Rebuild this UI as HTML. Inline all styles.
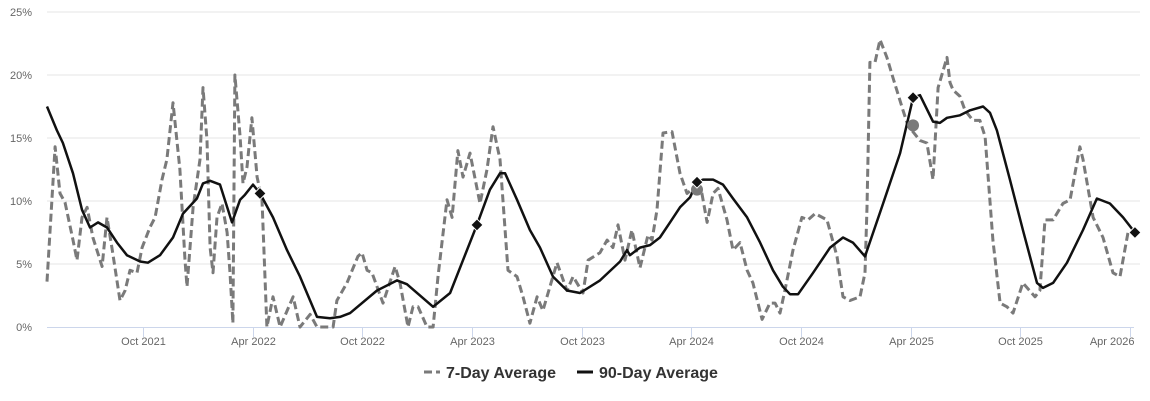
<!DOCTYPE html>
<html><head><meta charset="utf-8"><style>
html,body{margin:0;padding:0;background:#fff;}
svg{display:block;font-family:"Liberation Sans",Arial,sans-serif;}
</style></head><body>
<svg id="chart" width="1150" height="401" viewBox="0 0 1150 401" xmlns="http://www.w3.org/2000/svg">
<g id="grid"></g>
<g id="yaxis"></g>
<g id="xaxis"></g>
<g id="series"></g>
<g id="legend">
 <g>
  <line x1="424" y1="372" x2="440" y2="372" stroke="#7a7a7a" stroke-width="3" stroke-dasharray="8,4"/>
  <text x="446" y="378" font-size="16" font-weight="bold" fill="#333">7-Day Average</text>
 </g>
 <g>
  <line x1="577" y1="372" x2="593" y2="372" stroke="#111" stroke-width="3"/>
  <text x="599" y="378" font-size="16" font-weight="bold" fill="#333">90-Day Average</text>
 </g>
</g>
</svg>
<script>
// months since Jan 2021
const avg90Months=[3.75,4.29,4.62,5.17,5.66,6.10,6.54,7.03,7.58,8.12,8.84,9.27,9.93,10.64,11.19,11.95,12.28,12.67,13.21,13.87,14.31,14.58,15.02,15.40,16.11,16.88,17.59,18.52,19.23,19.78,20.33,21.80,22.90,23.44,24.87,25.80,26.51,27.27,27.98,28.53,28.81,29.46,30.17,30.72,31.43,32.20,32.91,34.00,35.10,35.48,35.64,36.19,36.74,37.28,37.83,38.38,38.93,39.31,39.64,40.19,40.73,41.28,42.05,42.76,43.47,44.01,44.40,44.84,45.66,46.59,47.30,47.84,48.50,49.49,50.42,51.13,51.51,52.22,52.60,52.99,53.70,54.25,54.96,55.34,55.72,56.43,57.14,57.91,58.24,58.79,59.55,60.43,61.19,61.90,62.62,63.27];
const avg90Values=[17.5,15.6,14.6,12.2,9.3,7.9,8.3,7.9,6.7,5.7,5.2,5.1,5.7,7.1,9.0,10.2,11.4,11.6,11.3,8.3,10.1,10.5,11.3,10.6,8.7,6.1,4.0,0.8,0.7,0.8,1.1,2.9,3.7,3.4,1.6,2.7,5.3,8.1,10.9,12.2,12.2,10.1,7.7,6.3,4.0,2.9,2.7,3.7,5.2,6.1,5.7,6.3,6.5,7.1,8.3,9.5,10.3,11.5,11.7,11.7,11.3,10.2,8.7,6.7,4.5,3.2,2.6,2.6,4.3,6.3,7.1,6.7,5.6,9.8,13.8,18.2,18.4,16.3,16.2,16.6,16.8,17.2,17.5,17.0,15.6,11.7,7.7,3.5,3.1,3.5,5.1,7.7,10.2,9.8,8.7,7.5];
const avg7Months=[3.75,4.19,4.46,4.73,5.17,5.39,5.66,5.94,6.26,6.76,7.03,7.30,7.74,8.02,8.29,8.67,8.95,9.38,9.66,10.04,10.31,10.64,11.02,11.30,11.41,11.74,12.12,12.28,12.50,12.67,12.83,13.05,13.32,13.60,13.76,13.92,14.03,14.31,14.47,14.69,14.96,15.24,15.51,15.78,16.11,16.50,17.21,17.59,18.14,18.52,19.40,19.61,20.16,20.76,20.98,21.26,21.53,22.13,22.79,23.06,23.50,23.77,24.05,24.54,24.87,25.14,25.63,25.91,26.23,26.51,26.89,27.44,27.82,28.15,28.53,28.97,29.46,29.79,30.17,30.56,30.88,31.65,32.20,32.53,33.07,33.35,34.00,34.39,34.71,34.99,35.37,35.75,36.19,36.63,36.85,37.12,37.45,37.94,38.38,38.76,39.20,39.58,39.86,40.19,40.46,40.95,41.28,41.66,42.05,42.37,42.87,43.30,43.58,43.85,44.12,44.56,45.05,45.38,45.77,46.42,46.97,47.30,47.68,48.23,48.50,48.61,48.77,49.05,49.32,49.70,50.03,50.58,50.85,51.51,51.89,52.22,52.50,52.99,53.15,53.32,53.70,53.97,54.41,54.79,55.07,55.50,55.89,56.27,56.60,57.14,57.80,58.07,58.35,58.79,59.33,59.72,60.26,60.43,60.98,61.52,62.07,62.45,62.89,63.27];
const avg7Values=[3.6,14.3,10.6,9.9,6.9,5.3,8.7,9.5,7.1,4.8,8.7,6.3,2.1,2.9,4.5,4.3,6.3,7.9,8.7,11.7,13.3,17.8,12.5,5.3,3.2,9.5,13.3,19.0,14.8,6.3,4.3,8.7,9.8,7.5,4.3,0.3,20.0,15.1,11.4,12.7,16.6,11.9,10.1,0,2.4,0,2.4,0,1.0,0,0,2.1,3.5,5.6,5.9,4.5,4.3,1.9,4.8,3.5,0,1.6,1.6,0,0,4.0,10.1,8.7,14.0,11.9,13.8,9.8,12.5,15.9,13.3,4.5,4.0,2.4,0.3,2.4,1.3,5.1,2.9,4.0,2.7,5.3,5.9,6.9,6.3,8.1,5.3,7.7,4.7,7.3,6.9,9.3,15.4,15.5,12.2,10.6,11.1,10.6,8.3,10.6,11.0,8.5,6.1,6.7,4.5,3.5,0.6,1.9,1.9,1.1,2.9,6.1,8.7,8.5,9.0,8.5,5.6,2.4,2.1,2.4,4.3,9.5,21.0,21.0,22.8,21.4,19.8,17.2,16.0,14.8,14.6,11.7,19.0,21.4,19.4,18.8,18.3,17.2,16.4,16.4,15.1,6.9,1.9,1.6,1.1,3.5,2.4,2.9,8.5,8.5,9.8,10.1,14.3,13.3,8.7,7.1,4.3,4.0,7.5,7.5];
const diamondMonths=[15.40,27.27,39.31,51.13,63.27];
const diamondValues=[10.6,8.1,11.5,18.2,7.5];
const circleMonths=[39.31,51.13];
const circleValues=[10.9,16.0];
const yTicks=[0,5,10,15,20,25];
const xTickMonths=[9,15,21,27,33,39,45,51,57,63];
const xTickLabels=["Oct 2021","Apr 2022","Oct 2022","Apr 2023","Oct 2023","Apr 2024","Oct 2024","Apr 2025","Oct 2025","Apr 2026"];

const NS="http://www.w3.org/2000/svg";
const X0=47,X1=1134,Y0=327,Y1=12;
function xs(m){return 143+(m-9)*18.278;}
function ys(v){return Y0-(v/25)*(Y0-Y1);}
function mk(tag,attrs,parent){const e=document.createElementNS(NS,tag);for(const k in attrs)e.setAttribute(k,attrs[k]);parent.appendChild(e);return e;}

const grid=document.getElementById('grid'),yax=document.getElementById('yaxis'),xax=document.getElementById('xaxis'),ser=document.getElementById('series');
yTicks.forEach(t=>{
  if(t>0){const g=mk('line',{x1:X0,x2:X1+6,y1:ys(t),y2:ys(t),stroke:'#e6e6e6','stroke-width':1},grid);
  
  }
  const tx=mk('text',{x:32,y:ys(t)+4,'text-anchor':'end','font-size':11,fill:'#666'},yax);
  tx.textContent=t+'%';
  
  
});
const axl=mk('line',{x1:X0,x2:X1,y1:Y0+0.5,y2:Y0+0.5,stroke:'#ccd6eb','stroke-width':1},xax);


xTickMonths.forEach((m,i)=>{
  const x=Math.round(xs(m))+0.5;
  const tk=mk('line',{x1:x,x2:x,y1:Y0,y2:Y0+10,stroke:'#ccd6eb','stroke-width':1},xax);
  
  
  const last=i===xTickMonths.length-1;
  const tx=mk('text',{x:last?x+4:x,y:345,'text-anchor':last?'end':'middle','font-size':11,fill:'#666'},xax);
  tx.textContent=xTickLabels[i];
  
  
});
function pts(ms,vs){return ms.map((m,i)=>xs(m).toFixed(1)+','+ys(vs[i]).toFixed(1)).join(' ');}
const l7=mk('polyline',{points:pts(avg7Months,avg7Values),fill:'none',stroke:'#7a7a7a','stroke-width':3,'stroke-dasharray':'8,4','stroke-linejoin':'round'},ser);


const l90=mk('polyline',{points:pts(avg90Months,avg90Values),fill:'none',stroke:'#111','stroke-width':2.5,'stroke-linejoin':'round'},ser);


circleMonths.forEach((m,i)=>{
  const c=mk('circle',{cx:xs(m),cy:ys(circleValues[i]),r:6,fill:'#7a7a7a'},ser);
  
  
});
diamondMonths.forEach((m,i)=>{
  const x=xs(m),y=ys(diamondValues[i]),s=6;
  const d=mk('polygon',{points:`${x},${y-s} ${x+s},${y} ${x},${y+s} ${x-s},${y}`,fill:'#111',stroke:'#fff','stroke-width':1},ser);
  
  
});
</script>
</body></html>
